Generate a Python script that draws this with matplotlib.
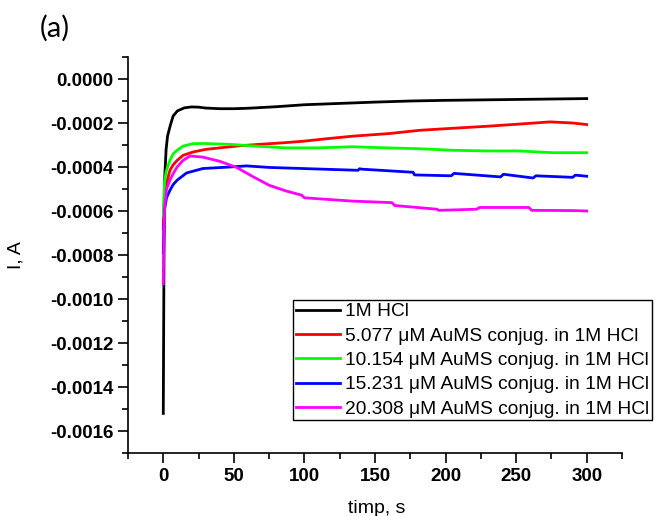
import matplotlib
matplotlib.use("Agg")
import matplotlib.pyplot as plt
from matplotlib.ticker import MultipleLocator, FormatStrFormatter

plt.rcParams['font.family'] = ['Liberation Sans', 'DejaVu Sans']
plt.rcParams['axes.unicode_minus'] = False

# current vs time
t_black = [0, 0.5, 1, 2, 3, 5, 7, 10, 15, 20, 25, 30, 40, 50, 60, 80, 100, 125, 150, 175, 200, 225, 250, 275, 300]
i_black = [-0.00152, -0.0008, -0.00045, -0.00032, -0.00026, -0.00021, -0.000168, -0.000145, -0.000131, -0.000127,
           -0.000128, -0.000132, -0.000135, -0.000135, -0.000133, -0.000126, -0.000117, -0.000111, -0.000105,
           -0.000100, -0.000097, -0.000095, -0.000093, -0.000091, -0.000089]

t_red = [0, 0.5, 1, 2.3, 4.7, 7, 9.8, 14, 21, 30, 40, 55, 68, 85, 99, 115, 134, 160, 182, 205, 229, 252, 274, 290, 300]
i_red = [-0.00068, -0.00058, -0.00052, -0.000474, -0.000415, -0.00039, -0.00037, -0.000347, -0.000332, -0.00032,
         -0.000313, -0.000303, -0.000297, -0.00029, -0.000283, -0.000272, -0.00026, -0.000248, -0.000233, -0.000224,
         -0.000215, -0.000205, -0.000195, -0.0002, -0.000207]

t_green = [0, 0.5, 1, 2.3, 4.7, 7, 9.8, 14, 21, 28, 47, 68, 87, 110, 134, 158, 182, 205, 229, 252, 276, 300]
i_green = [-0.00062, -0.00052, -0.00046, -0.000415, -0.00037, -0.00034, -0.000324, -0.000305, -0.000294, -0.000293,
           -0.000297, -0.000306, -0.000313, -0.000313, -0.000308, -0.000313, -0.000317, -0.000324, -0.000327,
           -0.000327, -0.000335, -0.000335]

t_blue = [0, 0.5, 1, 2.3, 4.7, 7, 9.8, 16.5, 28, 47, 59, 75, 99, 138, 139, 141, 177, 178, 204, 206, 239, 241,
          262, 264, 290, 292, 300]
i_blue = [-0.00079, -0.00066, -0.00059, -0.00054, -0.000506, -0.00048, -0.00046, -0.000427, -0.000407, -0.0004,
          -0.000395, -0.000402, -0.000407, -0.000415, -0.000408, -0.00041, -0.000424, -0.000436, -0.00044,
          -0.000429, -0.000445, -0.000433, -0.00045, -0.00044, -0.000447, -0.000437, -0.000442]

t_mag = [0, 0.5, 1, 2.3, 4.7, 7, 9.8, 14, 19, 28, 40, 52, 63, 75, 87, 98, 100, 134, 162, 164, 194, 195, 222, 224,
         259, 261, 290, 300]
i_mag = [-0.00093, -0.00068, -0.00058, -0.0005, -0.00046, -0.00043, -0.0004, -0.00037, -0.00035, -0.000355,
         -0.000374, -0.000402, -0.000442, -0.000483, -0.000509, -0.000528, -0.00054, -0.000555, -0.000562,
         -0.000575, -0.000592, -0.000597, -0.000592, -0.000584, -0.000584, -0.000597, -0.000598, -0.0006]

labels = ['1M HCl',
          '5.077 μM AuMS conjug. in 1M HCl',
          '10.154 μM AuMS conjug. in 1M HCl',
          '15.231 μM AuMS conjug. in 1M HCl',
          '20.308 μM AuMS conjug. in 1M HCl']
colors = ['#000000', '#FF0000', '#00FF00', '#0000FF', '#FF00FF']

fig = plt.figure(figsize=(6.55, 5.16), dpi=100)
ax = fig.add_axes([128 / 655, 1 - 453 / 516, 494 / 655, 396 / 516])

series = [(t_black, i_black), (t_red, i_red), (t_green, i_green), (t_blue, i_blue), (t_mag, i_mag)]
for (t, i), lab, c in zip(series, labels, colors):
    ax.plot(t, i, color=c, lw=2, label=lab)

ax.set_xlim(-25, 325)
ax.set_ylim(-0.0017, 0.0001)
ax.xaxis.set_major_locator(MultipleLocator(50))
ax.xaxis.set_minor_locator(MultipleLocator(25))
ax.yaxis.set_major_locator(MultipleLocator(0.0002))
ax.yaxis.set_minor_locator(MultipleLocator(0.0001))
ax.yaxis.set_major_formatter(FormatStrFormatter('%.4f'))

ax.spines['top'].set_visible(False)
ax.spines['right'].set_visible(False)
for s in ['left', 'bottom']:
    ax.spines[s].set_linewidth(1.2)
ax.tick_params(which='major', direction='out', length=7, width=1.2, labelsize=13.5)
ax.tick_params(which='minor', direction='out', length=4, width=1.2)
for lbl in ax.get_xticklabels() + ax.get_yticklabels():
    lbl.set_fontweight('bold')

ax.set_xlabel('timp, s', fontsize=14)
ax.set_ylabel('I, A', fontsize=14)
ax.xaxis.set_label_coords(0.504, -0.118)
ax.yaxis.set_label_coords(-0.209, 0.5)

leg = ax.legend(loc='upper left', bbox_to_anchor=(293 / 655, 1 - 300 / 516),
                bbox_transform=fig.transFigure, borderaxespad=0, fontsize=13.8,
                fancybox=False, frameon=True, edgecolor='black', framealpha=1,
                handlelength=2.3, handletextpad=0.27, labelspacing=0.36, borderpad=0.15)
leg.get_frame().set_linewidth(1)

fig.text(40 / 655, 1 - 28 / 516, '(a)', fontsize=21, family=['Lato', 'DejaVu Sans'], va='center', ha='left')

fig.savefig('out.png', dpi=100)
